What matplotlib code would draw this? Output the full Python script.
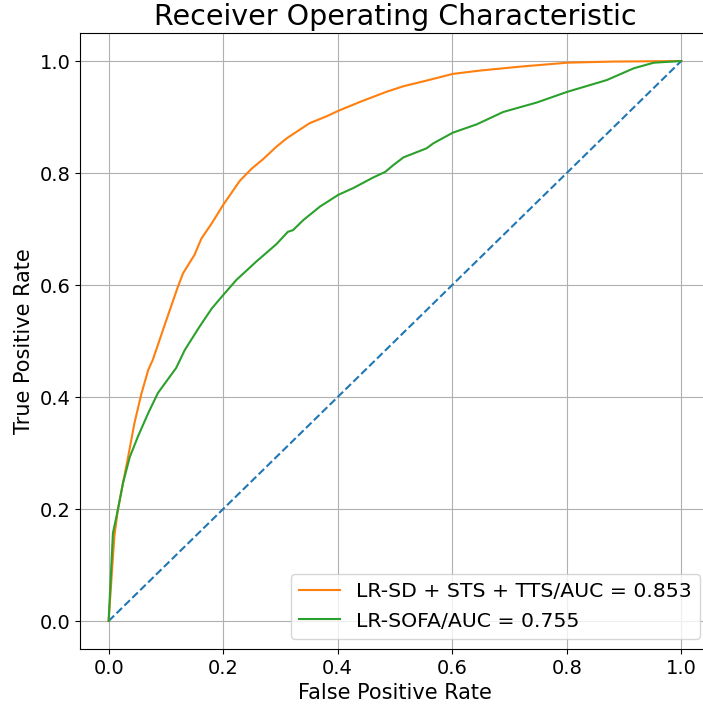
import matplotlib
matplotlib.use("Agg")
import matplotlib.pyplot as plt

# ROC curve points
fpr_combo = [0.0, 0.006, 0.010, 0.016, 0.025, 0.034, 0.045, 0.057, 0.069, 0.077,
             0.090, 0.101, 0.121, 0.130, 0.150, 0.162, 0.180, 0.200, 0.229, 0.250,
             0.270, 0.293, 0.311, 0.351, 0.380, 0.401, 0.439, 0.485, 0.515, 0.555,
             0.601, 0.649, 0.719, 0.801, 0.880, 1.0]
tpr_combo = [0.0, 0.091, 0.151, 0.198, 0.246, 0.293, 0.353, 0.405, 0.448, 0.466,
             0.505, 0.538, 0.597, 0.621, 0.654, 0.683, 0.710, 0.743, 0.786, 0.808,
             0.825, 0.847, 0.862, 0.889, 0.901, 0.911, 0.927, 0.945, 0.955, 0.965,
             0.977, 0.983, 0.990, 0.997, 0.999, 1.0]

fpr_sofa = [0.0, 0.0075, 0.016, 0.025, 0.037, 0.051, 0.069, 0.086, 0.098, 0.118,
            0.133, 0.159, 0.180, 0.200, 0.223, 0.258, 0.293, 0.313, 0.322, 0.340,
            0.369, 0.401, 0.427, 0.462, 0.483, 0.497, 0.515, 0.555, 0.567, 0.601,
            0.643, 0.689, 0.748, 0.801, 0.870, 0.917, 0.952, 1.0]
tpr_sofa = [0.0, 0.157, 0.198, 0.246, 0.293, 0.329, 0.371, 0.407, 0.424, 0.452,
            0.484, 0.526, 0.558, 0.582, 0.609, 0.642, 0.673, 0.695, 0.698, 0.716,
            0.740, 0.761, 0.773, 0.792, 0.802, 0.814, 0.828, 0.844, 0.853, 0.872,
            0.887, 0.909, 0.926, 0.945, 0.966, 0.987, 0.997, 1.0]

labels = ["LR-SD + STS + TTS/AUC = 0.853", "LR-SOFA/AUC = 0.755"]

fig = plt.figure(figsize=(7.03, 7.04), dpi=100)
# axes run past the right edge, as in the cropped original
ax = fig.add_axes([0.1138, 0.0781, 0.896, 0.875])

ax.plot([0, 1], [0, 1], linestyle="--", color="tab:blue", linewidth=1.5)
ax.plot(fpr_combo, tpr_combo, color="tab:orange", linewidth=1.5, label=labels[0])
ax.plot(fpr_sofa, tpr_sofa, color="tab:green", linewidth=1.5, label=labels[1])

ax.set_xlim(-0.05, 1.05)
ax.set_ylim(-0.05, 1.05)
ax.set_xticks([0.0, 0.2, 0.4, 0.6, 0.8, 1.0])
ax.set_yticks([0.0, 0.2, 0.4, 0.6, 0.8, 1.0])
ax.tick_params(labelsize=14)
ax.grid(True, color="#b0b0b0", linewidth=0.8)
ax.set_axisbelow(True)

ax.set_title("Receiver Operating Characteristic", fontsize=20.5)
ax.set_xlabel("False Positive Rate", fontsize=15)
ax.set_ylabel("True Positive Rate", fontsize=15)
ax.legend(loc="lower right", fontsize=14.7)

fig.savefig("out.png", dpi=100)
